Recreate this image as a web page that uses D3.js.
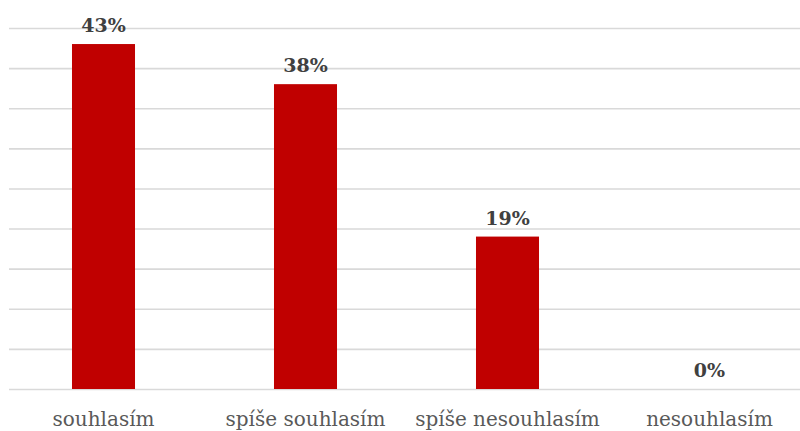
<!DOCTYPE html>
<html>
<head>
<meta charset="utf-8">
<script src="https://cdn.jsdelivr.net/npm/d3@7"></script>
<style>
  html, body { margin: 0; padding: 0; background: #fff; }
  svg { display: block; }
</style>
</head>
<body>
<svg id="chart" width="800" height="431"></svg>
<script>
// Survey answers and their shares (%)
const categories = ["souhlasím", "spíše souhlasím", "spíše nesouhlasím", "nesouhlasím"];
const values = [43, 38, 19, 0];
const yTicks = [0, 5, 10, 15, 20, 25, 30, 35, 40, 45];

const svg = d3.select("#chart");

const x = d3.scaleBand()
  .domain(categories)
  .range([2.5, 810.5])
  .paddingInner(0.688)
  .paddingOuter(0.344);

const y = d3.scaleLinear()
  .domain([0, 45])
  .range([389, 28]);

// Horizontal gridlines
const gridLeft = 9, gridRight = 812;
const grid = svg.append("g")
  .attr("transform", `translate(${gridLeft},0)`)
  .call(d3.axisRight(y).tickValues(yTicks).tickSize(gridRight - gridLeft).tickFormat(""));
grid.select(".domain").remove();
grid.selectAll(".tick line").attr("stroke", "#d9d9d9").attr("stroke-width", 1.6);

// Bars
svg.append("g").selectAll("rect")
  .data(values)
  .join("rect")
  .attr("x", (d, i) => x(categories[i]))
  .attr("width", x.bandwidth())
  .attr("y", d => y(d))
  .attr("height", d => y(0) - y(d))
  .attr("fill", "#c00000");

// Value labels
svg.append("g").selectAll("text")
  .data(values)
  .join("text")
  .attr("x", (d, i) => x(categories[i]) + x.bandwidth() / 2)
  .attr("y", d => y(d) - 12)
  .attr("text-anchor", "middle")
  .attr("font-family", "DejaVu Serif, serif")
  .attr("font-weight", "bold")
  .attr("font-size", 19)
  .attr("fill", "#404040")
  .text(d => d + "%");

// Category axis labels
const xAxis = svg.append("g")
  .attr("transform", `translate(0,${y(0)})`)
  .call(d3.axisBottom(x).tickSize(0).tickPadding(0));
xAxis.select(".domain").remove();
xAxis.selectAll(".tick text")
  .attr("dy", 0)
  .attr("y", 37)
  .attr("font-family", "DejaVu Serif, serif")
  .attr("font-size", 20)
  .attr("fill", "#595959");
</script>
</body>
</html>
